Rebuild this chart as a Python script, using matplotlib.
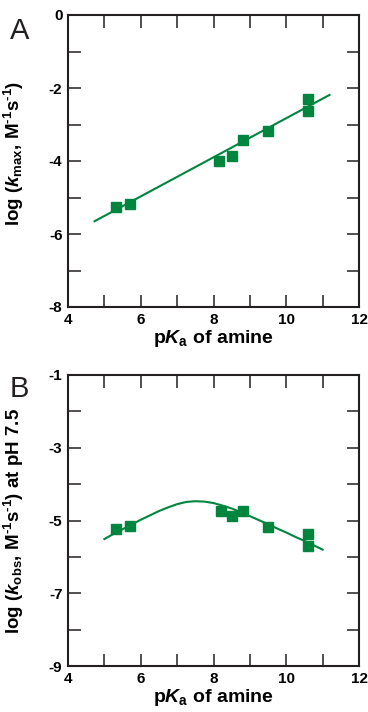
import numpy as np
import matplotlib
matplotlib.use("Agg")
import matplotlib.pyplot as plt

# data
pka = [5.31, 5.70, 8.15, 8.51, 8.81, 9.50, 10.60, 10.60]
log_kmax = [-5.26, -5.18, -4.00, -3.85, -3.43, -3.18, -2.31, -2.63]
fitA_x = [4.73, 11.19]
fitA_y = [-5.65, -2.19]

pka_b = [5.32, 5.70, 8.20, 8.51, 8.81, 9.50, 10.60, 10.60]
log_kobs = [-5.24, -5.15, -4.74, -4.88, -4.73, -5.19, -5.38, -5.70]
fitB_x = [5.0, 5.25, 5.5, 5.75, 6.0, 6.25, 6.5, 6.75, 7.0, 7.25, 7.5, 7.75,
          8.0, 8.25, 8.5, 8.75, 9.0, 9.25, 9.5, 9.75, 10.0, 10.25, 10.5,
          10.75, 11.0]
fitB_y = [-5.51, -5.37, -5.24, -5.11, -4.98, -4.86, -4.74, -4.64, -4.55,
          -4.49, -4.47, -4.48, -4.52, -4.59, -4.67, -4.77, -4.88, -4.99,
          -5.10, -5.22, -5.33, -5.45, -5.56, -5.68, -5.80]

GREEN = "#00853f"
INK = "#231f20"
plt.rcParams.update({
    "font.family": "Liberation Sans",
    "font.weight": "bold",
    "axes.unicode_minus": False,
    "mathtext.fontset": "custom",
    "mathtext.rm": "Liberation Sans:bold",
    "mathtext.bf": "Liberation Sans:bold",
    "mathtext.it": "Liberation Sans:bold:italic",
})

fig = plt.figure(figsize=(3.68, 7.12), dpi=100)
axA = fig.add_axes([68/368, 1-307/712, 291/368, 292/712])
axB = fig.add_axes([68/368, 1-666/712, 291/368, 291/712])


def style(ax, ylo, yhi):
    ax.set_xlim(4, 12)
    ax.set_ylim(ylo, yhi)
    ax.set_xticks(np.arange(4, 13, 2))
    ax.set_xticks(np.arange(4, 13, 1), minor=True)
    ax.set_yticks(np.arange(ylo, yhi + 1, 2))
    ax.set_yticks(np.arange(ylo, yhi + 1, 1), minor=True)
    for s in ax.spines.values():
        s.set_linewidth(1.5)
        s.set_color(INK)
    ax.tick_params(which="both", direction="in", top=True, right=True,
                   length=9, width=1.1, color=INK, labelsize=11, pad=4)
    for lab in ax.get_xticklabels() + ax.get_yticklabels():
        lab.set_fontweight("bold")
    ax.set_xlabel(r"p$K_{\rm a}$ of amine", fontsize=14, fontweight="bold",
                  labelpad=1)


style(axA, -8, 0)
axA.plot(fitA_x, fitA_y, color=GREEN, lw=1.5)
axA.plot(pka, log_kmax, "s", color=GREEN, ms=6.5, mec=GREEN)
axA.set_ylabel(r"log ($k_{\rm max}$, M$^{\text{-1}}$s$^{\text{-1}}$)",
               fontsize=13.5, fontweight="bold")
axA.yaxis.set_label_coords(-0.145, 0.527)
fig.text(10/368, 1-39/712, "A", fontsize=21, fontweight="normal", color=INK)

style(axB, -9, -1)
axB.plot(fitB_x, fitB_y, color=GREEN, lw=1.5)
axB.plot(pka_b, log_kobs, "s", color=GREEN, ms=6.5, mec=GREEN)
axB.set_ylabel(r"log ($k_{\rm obs}$, M$^{\text{-1}}$s$^{\text{-1}}$) at pH 7.5",
               fontsize=13.5, fontweight="bold")
axB.yaxis.set_label_coords(-0.145, 0.5)
fig.text(10/368, 1-397/712, "B", fontsize=21, fontweight="normal", color=INK)

fig.savefig("out.png", dpi=100)
